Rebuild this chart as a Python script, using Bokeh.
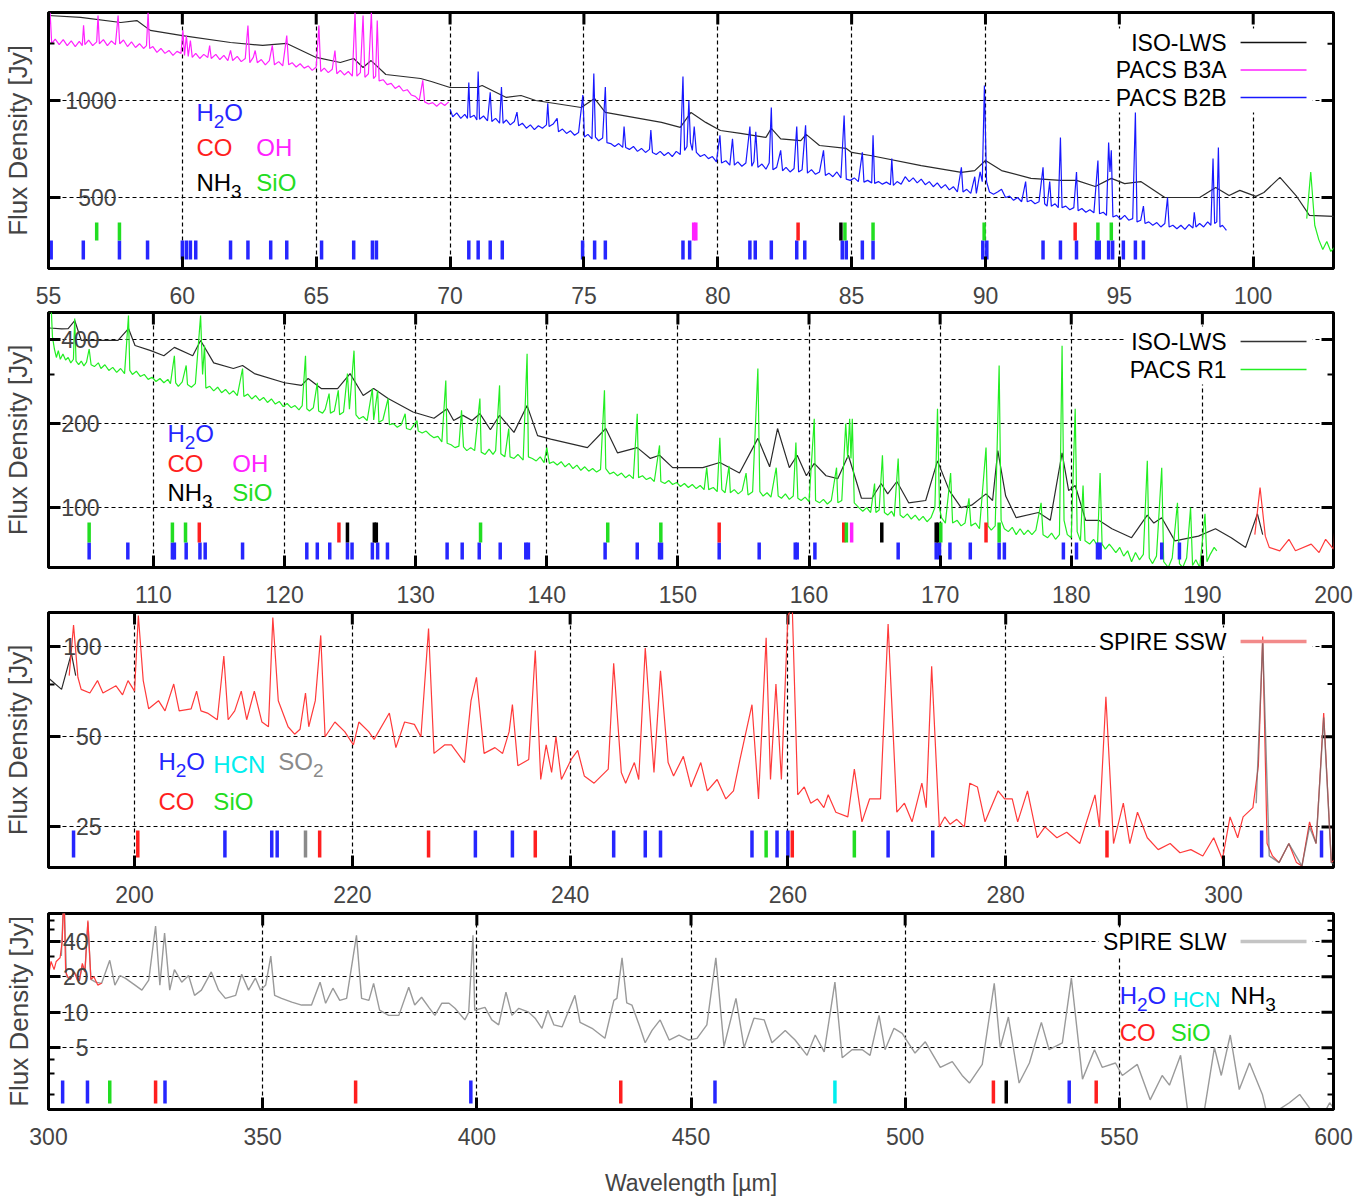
from bokeh.plotting import figure
from bokeh.layouts import column
from bokeh.models import (Range1d, LinearScale, FixedTicker, Label, BoxAnnotation,
                          NumeralTickFormatter)
from bokeh.embed import file_html
from bokeh.resources import INLINE

# ---------------------------------------------------------------- spectra
# (wavelength [um], flux density [Jy])
iso_lws = [
    (55.0, 1835), (56.2, 1810), (57.7, 1746), (58.3, 1770), (58.8, 1650), (60.0, 1590), (61.8, 1513),
    (63.0, 1482), (63.9, 1503), (65.0, 1360), (65.9, 1312), (66.4, 1350), (66.75, 1266), (67.05, 1330),
    (67.6, 1204), (68.9, 1170), (69.3, 1145), (70.0, 1097), (71.0, 1097), (71.2, 1113), (72.1, 1022),
    (72.65, 1036), (73.2, 1000), (74.9, 951), (75.4, 1014), (75.8, 919), (77.9, 855), (78.6, 825),
    (79.0, 918), (79.55, 855), (80.1, 807), (80.85, 790), (81.8, 768), (82.0, 819), (82.35, 760),
    (83.1, 751), (83.3, 785), (83.8, 725), (84.8, 710), (85.0, 690), (85.7, 675), (87.6, 628),
    (89.1, 598), (89.6, 606), (90.0, 651), (90.6, 606), (91.7, 573), (92.8, 565), (93.4, 565),
    (94.1, 541), (94.7, 573), (95.2, 552), (95.8, 560), (96.7, 500), (98.0, 500), (98.6, 537),
    (99.1, 507), (99.5, 526), (100.1, 504), (100.4, 518), (101.0, 577), (101.6, 507), (102.1, 440),
    (103.0, 437), (103.5, 438), (104.0, 468), (104.5, 397), (107.3, 397), (108.1, 438), (108.6, 381),
    (109.8, 365), (110.8, 350), (111.6, 375), (113.0, 350), (113.6, 397), (114.6, 330), (116.1, 315),
    (116.8, 323), (117.7, 302), (120.0, 280), (121.3, 274), (121.8, 290), (122.8, 267), (124.05, 267),
    (125.0, 302), (126.0, 252), (126.8, 267), (127.9, 246), (129.8, 220), (131.4, 209), (132.4, 226),
    (132.9, 205), (133.6, 214), (134.3, 205), (134.9, 217), (135.7, 190), (136.4, 214), (137.5, 186),
    (138.5, 232), (139.3, 181), (140.3, 176), (143.1, 164), (144.5, 192), (145.4, 157), (146.9, 164),
    (147.9, 150), (148.6, 154), (149.6, 139), (151.9, 139), (153.2, 145), (154.7, 133), (156.1, 177),
    (157.0, 140), (157.6, 192), (158.5, 139), (159.1, 154), (159.8, 130), (160.4, 144), (161.3, 130),
    (162.2, 127), (163.0, 154), (164.0, 108), (164.8, 108), (165.5, 122), (166.0, 112), (166.7, 124),
    (167.6, 104), (168.9, 106), (169.8, 147), (170.7, 115), (171.6, 100), (172.4, 102), (173.5, 112),
    (174.0, 106), (174.4, 160), (175.0, 110), (175.8, 92), (177.5, 96), (178.4, 90), (179.3, 157),
    (179.8, 115), (180.3, 120), (181.1, 90), (182.1, 90), (183.1, 84), (184.6, 78), (185.8, 94),
    (186.3, 88), (186.9, 92), (187.9, 76), (189.7, 79), (191.0, 84), (192.2, 78), (193.3, 72),
    (194.2, 95), (194.6, 80),
]

pacs_b3a = [
    (55.0, 1560), (55.06, 1875), (55.12, 1500), (55.25, 1550), (55.4, 1490), (55.55, 1545), (55.7, 1480),
    (55.85, 1530), (56.0, 1470), (56.15, 1525), (56.26, 1480), (56.31, 1710), (56.36, 1490), (56.5, 1540),
    (56.65, 1480), (56.8, 1520), (56.85, 1835), (56.9, 1500), (57.05, 1545), (57.2, 1480), (57.35, 1530),
    (57.5, 1490), (57.6, 1835), (57.66, 1500), (57.8, 1540), (57.95, 1470), (58.1, 1520), (58.25, 1460),
    (58.4, 1500), (58.55, 1450), (58.66, 1480), (58.72, 1875), (58.78, 1450), (58.9, 1470), (59.05, 1410),
    (59.2, 1450), (59.35, 1400), (59.5, 1430), (59.65, 1380), (59.8, 1420), (59.95, 1400), (60.02, 1650),
    (60.08, 1380), (60.15, 1590), (60.22, 1370), (60.3, 1535), (60.37, 1360), (60.5, 1400), (60.65, 1350),
    (60.8, 1390), (60.95, 1360), (61.02, 1480), (61.08, 1350), (61.25, 1390), (61.4, 1340), (61.55, 1380),
    (61.7, 1330), (61.8, 1430), (61.88, 1330), (62.05, 1370), (62.2, 1320), (62.35, 1350), (62.45, 1709),
    (62.52, 1310), (62.65, 1360), (62.72, 1429), (62.8, 1310), (62.95, 1340), (63.1, 1290), (63.25, 1330),
    (63.36, 1482), (63.44, 1290), (63.6, 1320), (63.75, 1280), (63.9, 1591), (63.97, 1290), (64.1, 1310),
    (64.25, 1270), (64.4, 1300), (64.55, 1260), (64.7, 1280), (64.85, 1240), (65.0, 1270), (65.1, 1709),
    (65.17, 1230), (65.3, 1260), (65.45, 1220), (65.6, 1250), (65.7, 1429), (65.77, 1210), (65.9, 1240),
    (66.05, 1200), (66.2, 1230), (66.35, 1190), (66.45, 1875), (66.52, 1190), (66.65, 1220), (66.75, 1835),
    (66.82, 1180), (66.95, 1210), (67.06, 1875), (67.14, 1170), (67.22, 1190), (67.28, 1771), (67.35, 1150),
    (67.5, 1160), (67.65, 1120), (67.8, 1130), (67.95, 1090), (68.1, 1110), (68.25, 1070), (68.4, 1080),
    (68.55, 1040), (68.7, 1030), (68.85, 1000), (68.98, 1154), (69.05, 990), (69.2, 975), (69.35, 985),
    (69.5, 960), (69.65, 985), (69.8, 965), (69.95, 990),
]

pacs_b2b = [
    (70.0, 940), (70.1, 890), (70.25, 915), (70.4, 880), (70.55, 905), (70.65, 880), (70.7, 1137),
    (70.75, 885), (70.9, 900), (71.0, 870), (71.05, 1230), (71.1, 875), (71.25, 895), (71.4, 865),
    (71.5, 1060), (71.56, 860), (71.7, 880), (71.85, 850), (71.92, 1100), (71.98, 850), (72.1, 870),
    (72.25, 840), (72.4, 860), (72.5, 920), (72.56, 835), (72.7, 850), (72.85, 820), (73.0, 840),
    (73.15, 812), (73.3, 835), (73.45, 820), (73.6, 840), (73.65, 980), (73.7, 830), (73.85, 845),
    (74.0, 880), (74.05, 800), (74.2, 815), (74.35, 790), (74.5, 805), (74.65, 780), (74.8, 795),
    (74.96, 1040), (75.02, 770), (75.15, 785), (75.3, 760), (75.37, 1213), (75.43, 770), (75.55, 750),
    (75.7, 765), (75.8, 1100), (75.86, 740), (76.0, 735), (76.15, 720), (76.3, 735), (76.45, 715),
    (76.5, 830), (76.56, 715), (76.7, 705), (76.85, 720), (77.0, 695), (77.15, 710), (77.3, 690),
    (77.45, 705), (77.5, 810), (77.56, 690), (77.7, 680), (77.85, 695), (78.0, 675), (78.15, 690),
    (78.3, 670), (78.45, 695), (78.6, 680), (78.7, 1187), (78.76, 700), (78.85, 720), (78.92, 1000),
    (78.98, 740), (79.05, 700), (79.12, 830), (79.2, 690), (79.35, 670), (79.5, 680), (79.65, 660),
    (79.8, 670), (79.95, 645), (80.08, 780), (80.14, 640), (80.3, 650), (80.45, 630), (80.55, 760),
    (80.62, 630), (80.75, 645), (80.9, 625), (81.05, 640), (81.2, 830), (81.27, 625), (81.35, 645),
    (81.42, 800), (81.5, 620), (81.65, 635), (81.8, 612), (81.92, 640), (82.0, 951), (82.06, 610),
    (82.2, 620), (82.35, 700), (82.42, 605), (82.55, 620), (82.7, 600), (82.85, 615), (82.95, 830),
    (83.02, 600), (83.15, 610), (83.28, 837), (83.35, 595), (83.5, 610), (83.65, 590), (83.8, 600),
    (83.95, 700), (84.02, 585), (84.15, 595), (84.3, 580), (84.45, 600), (84.6, 575), (84.72, 898),
    (84.8, 570), (84.95, 565), (85.1, 575), (85.25, 560), (85.4, 690), (85.46, 558), (85.6, 565),
    (85.75, 555), (85.8, 780), (85.86, 553), (86.0, 560), (86.15, 550), (86.3, 558), (86.45, 548),
    (86.5, 660), (86.56, 545), (86.7, 560), (86.85, 550), (87.0, 580), (87.15, 560), (87.3, 575),
    (87.45, 555), (87.6, 570), (87.75, 548), (87.9, 560), (88.05, 540), (88.2, 555), (88.35, 535),
    (88.5, 548), (88.65, 528), (88.8, 540), (88.95, 520), (89.1, 620), (89.16, 520), (89.3, 530),
    (89.45, 515), (89.6, 580), (89.66, 515), (89.8, 600), (89.88, 560), (89.96, 1113), (90.04, 560),
    (90.15, 520), (90.3, 512), (90.45, 520), (90.6, 530), (90.75, 500), (90.9, 505), (91.05, 490),
    (91.2, 500), (91.35, 485), (91.5, 560), (91.56, 485), (91.7, 490), (91.85, 478), (92.0, 485),
    (92.15, 620), (92.21, 478), (92.3, 470), (92.4, 560), (92.46, 470), (92.6, 478), (92.72, 465),
    (92.8, 768), (92.86, 465), (93.0, 470), (93.15, 458), (93.3, 465), (93.4, 600), (93.46, 455),
    (93.6, 462), (93.75, 450), (93.9, 458), (94.05, 448), (94.2, 651), (94.26, 445), (94.4, 450),
    (94.52, 440), (94.6, 741), (94.65, 600), (94.7, 700), (94.76, 435), (94.9, 440), (95.05, 428),
    (95.2, 440), (95.35, 425), (95.5, 430), (95.6, 918), (95.66, 420), (95.8, 425), (95.9, 470),
    (95.96, 415), (96.1, 420), (96.25, 410), (96.4, 418), (96.55, 405), (96.7, 415), (96.8, 500),
    (96.86, 405), (97.0, 410), (97.15, 400), (97.3, 410), (97.45, 398), (97.6, 412), (97.75, 402),
    (97.8, 450), (97.86, 405), (98.0, 415), (98.15, 405), (98.3, 420), (98.42, 410), (98.5, 661),
    (98.56, 415), (98.64, 420), (98.7, 715), (98.76, 405), (98.85, 410), (99.0, 395),
]

pacs_r1 = [
    (102.0, 430), (102.15, 600), (102.3, 410), (102.45, 370), (102.6, 345), (102.75, 365), (102.9, 340),
    (103.1, 355), (103.3, 338), (103.5, 345), (103.7, 330), (103.9, 340), (104.0, 476), (104.1, 335),
    (104.3, 325), (104.5, 335), (104.7, 322), (104.9, 332), (105.1, 370), (105.25, 325), (105.5, 320),
    (105.8, 330), (106.0, 315), (106.3, 325), (106.6, 310), (106.9, 318), (107.2, 305), (107.5, 315),
    (107.8, 302), (108.1, 488), (108.2, 310), (108.4, 300), (108.7, 308), (109.0, 295), (109.3, 300),
    (109.6, 288), (109.9, 293), (110.2, 283), (110.5, 290), (110.8, 280), (111.1, 288), (111.3, 278),
    (111.6, 350), (111.7, 280), (111.9, 272), (112.2, 282), (112.5, 323), (112.6, 276), (112.9, 270),
    (113.2, 278), (113.6, 488), (113.75, 300), (113.9, 381), (114.0, 268), (114.3, 272), (114.6, 262),
    (114.9, 270), (115.2, 258), (115.5, 265), (115.8, 255), (116.1, 262), (116.4, 252), (116.8, 315),
    (116.9, 250), (117.2, 255), (117.5, 245), (117.8, 252), (118.1, 242), (118.4, 248), (118.7, 238),
    (119.0, 245), (119.3, 235), (119.6, 240), (119.9, 230), (120.2, 236), (120.5, 228), (120.8, 232),
    (121.1, 224), (121.35, 232), (121.6, 350), (121.7, 226), (121.9, 222), (122.2, 228), (122.5, 280),
    (122.6, 222), (122.9, 218), (123.1, 225), (123.4, 256), (123.5, 218), (123.8, 222), (124.1, 263),
    (124.2, 215), (124.5, 220), (124.8, 302), (124.95, 225), (125.3, 365), (125.45, 215), (125.7, 208),
    (126.0, 212), (126.3, 205), (126.7, 267), (126.8, 206), (127.1, 263), (127.2, 202), (127.5, 206),
    (127.9, 246), (128.0, 198), (128.3, 200), (128.6, 194), (128.9, 198), (129.2, 217), (129.3, 192),
    (129.6, 190), (130.1, 205), (130.2, 188), (130.5, 185), (130.8, 188), (131.1, 182), (131.4, 178),
    (131.7, 180), (132.0, 172), (132.3, 285), (132.4, 170), (132.7, 168), (133.0, 164), (133.3, 166),
    (133.5, 223), (133.65, 165), (133.9, 160), (134.2, 164), (134.5, 160), (134.9, 246), (135.0, 158),
    (135.3, 155), (135.6, 162), (135.9, 155), (136.1, 160), (136.4, 274), (136.5, 156), (136.8, 152),
    (137.1, 192), (137.2, 152), (137.5, 150), (137.8, 155), (138.2, 148), (138.5, 356), (138.6, 152),
    (138.9, 150), (139.2, 147), (139.5, 152), (139.8, 145), (140.0, 164), (140.2, 144), (140.5, 146),
    (140.8, 142), (141.1, 146), (141.4, 140), (141.7, 144), (142.0, 138), (142.3, 142), (142.6, 136),
    (142.9, 140), (143.2, 135), (143.5, 138), (143.8, 134), (144.1, 137), (144.4, 263), (144.5, 138),
    (144.8, 132), (145.1, 134), (145.4, 130), (145.7, 133), (146.0, 128), (146.3, 131), (146.6, 127),
    (146.9, 217), (147.0, 128), (147.3, 130), (147.6, 126), (147.9, 128), (148.2, 124), (148.6, 167),
    (148.7, 124), (149.0, 122), (149.3, 125), (149.6, 121), (149.9, 123), (150.2, 119), (150.5, 122),
    (150.8, 118), (151.1, 121), (151.4, 117), (151.7, 120), (152.0, 116), (152.2, 139), (152.35, 116),
    (152.7, 118), (153.0, 114), (153.2, 178), (153.35, 116), (153.6, 113), (153.9, 141), (154.0, 113),
    (154.3, 116), (154.6, 112), (154.9, 115), (155.2, 133), (155.35, 111), (155.7, 114), (156.1, 315),
    (156.25, 114), (156.5, 110), (156.8, 113), (157.1, 109), (157.5, 139), (157.65, 110), (157.9, 108),
    (158.2, 112), (158.5, 107), (158.8, 110), (159.0, 171), (159.15, 108), (159.4, 106), (159.7, 109),
    (160.0, 105), (160.4, 208), (160.5, 106), (160.8, 104), (161.1, 107), (161.4, 103), (161.7, 106),
    (162.1, 139), (162.2, 104), (162.5, 106), (162.8, 200), (162.95, 150), (163.1, 208), (163.2, 150),
    (163.3, 208), (163.45, 104), (163.8, 100), (164.1, 97), (164.4, 100), (164.7, 96), (165.0, 122),
    (165.1, 96), (165.35, 98), (165.6, 154), (165.75, 96), (166.0, 94), (166.3, 97), (166.5, 93),
    (166.8, 150), (166.95, 94), (167.2, 92), (167.5, 95), (167.8, 91), (168.1, 94), (168.4, 90),
    (168.7, 93), (169.0, 89), (169.3, 92), (169.6, 100), (169.8, 226), (169.95, 100), (170.1, 92),
    (170.4, 88), (170.8, 133), (170.95, 88), (171.3, 90), (171.6, 86), (171.9, 88), (172.2, 108),
    (172.35, 86), (172.7, 88), (173.0, 84), (173.5, 164), (173.65, 86), (173.9, 83), (174.2, 86),
    (174.5, 323), (174.65, 90), (174.9, 84), (175.2, 82), (175.5, 85), (175.8, 80), (176.1, 84),
    (176.4, 80), (176.7, 83), (177.0, 80), (177.3, 83), (177.7, 104), (177.85, 80), (178.2, 78),
    (178.5, 81), (178.8, 77), (179.1, 80), (179.3, 380), (179.45, 90), (179.7, 80), (180.0, 78),
    (180.3, 226), (180.45, 82), (180.7, 76), (180.9, 120), (181.05, 76), (181.4, 74), (181.7, 77),
    (182.0, 73), (182.2, 133), (182.35, 74), (182.6, 71), (182.9, 74), (183.1, 72), (183.4, 69),
    (183.7, 72), (184.0, 67), (184.3, 70), (184.6, 64), (184.9, 69), (185.2, 65), (185.5, 68),
    (185.8, 147), (185.95, 66), (186.2, 63), (186.5, 67), (186.9, 139), (187.05, 64), (187.4, 61),
    (187.7, 66), (188.1, 104), (188.25, 63), (188.5, 61), (188.8, 66), (189.1, 100), (189.25, 62),
    (189.5, 65), (189.8, 61), (190.2, 95), (190.35, 64), (190.6, 68), (190.9, 72), (191.1, 70),
]

spire_ssw = [
    (194.0, 80), (194.4, 118), (194.8, 79), (195.1, 72), (195.9, 70), (196.6, 77), (197.1, 70),
    (198.3, 74), (198.9, 69), (199.4, 77), (200.0, 71), (200.35, 127), (200.8, 77), (201.3, 62),
    (202.2, 66), (202.8, 61), (203.6, 75), (204.1, 61), (205.2, 62), (205.7, 71), (206.1, 61),
    (206.7, 60), (207.6, 57), (208.2, 93), (208.6, 57), (209.2, 61), (209.8, 71), (210.3, 57),
    (211.0, 71), (211.7, 56), (212.3, 54), (212.7, 125), (213.2, 66), (214.1, 54), (214.7, 51),
    (215.2, 53), (215.7, 70), (216.0, 54), (216.6, 66), (217.1, 109), (217.5, 50), (218.4, 56),
    (219.3, 52), (220.1, 47), (220.6, 56), (221.5, 52), (222.0, 49), (223.4, 60), (224.0, 46),
    (224.8, 56), (225.7, 55), (226.3, 50), (227.0, 115), (227.5, 44), (228.5, 47), (229.1, 47),
    (230.3, 41), (230.9, 66), (231.4, 79), (232.1, 44), (233.1, 46), (233.8, 44), (234.4, 52),
    (234.7, 64), (235.2, 40), (236.2, 42), (236.8, 97), (237.3, 36), (237.8, 47), (238.3, 38),
    (238.7, 50), (239.2, 36), (240.1, 42), (240.7, 45), (241.3, 37), (242.2, 35), (243.5, 39),
    (244.0, 88), (244.7, 38), (245.1, 35), (245.9, 41), (246.3, 36), (246.9, 99), (247.7, 38),
    (248.3, 83), (249.0, 41), (249.5, 37), (250.4, 43), (251.1, 34), (252.0, 41), (252.6, 33),
    (253.5, 36), (254.3, 31), (255.0, 33), (255.6, 42), (256.7, 64), (257.3, 31), (258.0, 107),
    (258.4, 36), (258.9, 75), (259.4, 36), (260.0, 127), (260.4, 135), (260.9, 32), (261.5, 34),
    (262.1, 30), (262.7, 31), (263.3, 29), (263.7, 32), (264.4, 28), (265.5, 27), (266.1, 39),
    (266.8, 26), (267.5, 31), (268.5, 31), (269.2, 119), (270.0, 28), (270.7, 30), (271.4, 26),
    (272.3, 35), (272.7, 29), (273.2, 86), (273.9, 25), (274.4, 27), (274.9, 25.5), (275.5, 26.5),
    (276.2, 25), (276.7, 35), (277.4, 34), (278.1, 26), (279.3, 33), (279.9, 31), (280.6, 31),
    (281.1, 26), (282.0, 33), (282.9, 23), (283.6, 25), (284.7, 23), (285.6, 24), (286.8, 22),
    (288.2, 32), (288.6, 25), (289.2, 68), (289.9, 22), (290.8, 30), (291.4, 22), (292.1, 28),
    (293.0, 23), (294.0, 21), (295.1, 22), (296.0, 20.5), (297.0, 21), (298.1, 20), (299.1, 23),
    (299.9, 19.5), (300.6, 27), (301.3, 23), (301.8, 27), (302.7, 29), (303.2, 40), (303.6, 108),
    (304.0, 22), (304.5, 20), (305.1, 19), (306.0, 22), (306.7, 19), (307.2, 18.5), (307.9, 26),
    (308.5, 22), (309.2, 60), (309.9, 19), (310.6, 20), (311.5, 17), (312.4, 17.6),
]

spire_slw = [
    (303.0, 30), (303.6, 105), (304.2, 20), (305.1, 19), (306.0, 22), (307.2, 18.5), (307.9, 25),
    (308.5, 22), (309.2, 58), (309.9, 19), (311.0, 18), (312.4, 17.6), (314.3, 27.6), (315.5, 17),
    (316.7, 20.5), (317.9, 19.5), (320.2, 17), (321.8, 15.4), (323.4, 18.7), (325.0, 54), (326.0, 17),
    (327.1, 47), (328.3, 15.4), (329.4, 23), (331.1, 18), (332.7, 20.5), (334.1, 13.9), (335.7, 15.4),
    (338.0, 22), (339.7, 15.4), (341.3, 13.1), (343.7, 13.9), (345.1, 21), (346.7, 15.4), (348.3, 19.5),
    (349.5, 15.4), (350.7, 17), (351.9, 30), (352.8, 13.9), (354.4, 13.1), (356.8, 12.2), (359.1, 11.5),
    (361.4, 11.5), (363.4, 18), (364.7, 11.9), (366.4, 16), (368.0, 12.6), (369.6, 13.1), (371.9, 45),
    (373.1, 13.1), (374.8, 12.6), (375.9, 17.6), (377.3, 10.4), (379.4, 9.4), (381.8, 9.4), (384.1, 16.3),
    (385.5, 11.5), (387.1, 13.4), (388.8, 11), (390.2, 9.4), (391.8, 11.9), (393.5, 11.9), (394.9, 10.8),
    (397.2, 8.6), (398.1, 10), (399.1, 45), (399.5, 10.4), (401.9, 11), (403.5, 8.6), (405.1, 7.8),
    (406.8, 14.8), (408.2, 9.4), (409.8, 10.8), (412.1, 10), (413.6, 8.9), (415.2, 7.3), (416.6, 10.4),
    (418.0, 7.8), (419.9, 7.5), (422.9, 13.9), (424.1, 8.2), (426.9, 7.3), (429.9, 6.0), (432.0, 12.6),
    (432.7, 13.1), (433.9, 29), (435.0, 12), (436.2, 11.5), (437.9, 7.8), (439.3, 5.5), (440.9, 7),
    (442.8, 8.6), (444.9, 5.8), (447.2, 6.4), (449.5, 5.8), (451.4, 6), (453.7, 7.8), (455.8, 29),
    (457.7, 5.1), (460.5, 13.1), (462.4, 5.0), (464.7, 8.9), (467.1, 8.6), (468.9, 5.5), (472.0, 7.0),
    (474.3, 5.8), (477.1, 4.3), (479.0, 6.4), (481.1, 4.6), (483.6, 18), (485.3, 4.1), (487.6, 4.8),
    (490.0, 4.8), (491.8, 4.3), (493.9, 9.4), (495.3, 4.8), (497.4, 7.3), (499.3, 6.6), (502.3, 4.5),
    (504.7, 5.6), (508.2, 3.4), (511.0, 3.8), (513.3, 2.9), (515.0, 2.5), (518.0, 3.6), (520.8, 17.6),
    (522.2, 5.0), (524.1, 9.1), (526.6, 2.5), (529.0, 3.7), (531.8, 8.2), (533.6, 4.8), (536.7, 5.5),
    (538.8, 19.5), (541.4, 2.7), (544.2, 4.8), (546.0, 3.4), (549.1, 3.7), (550.7, 2.9), (554.2, 3.6),
    (557.2, 1.8), (560.0, 2.9), (561.7, 2.4), (564.3, 4.3), (565.9, 1.5), (567.8, 1.3), (569.9, 1.5),
    (572.2, 5.0), (573.8, 2.9), (575.9, 6.4), (578.0, 2.2), (580.4, 3.7), (583.4, 2.0), (584.6, 1.3),
    (587.4, 1.5), (589.7, 1.7), (592.1, 2.0), (594.6, 1.5), (597.4, 1.3), (599.1, 1.7), (600.2, 1.5),
]

# ---------------------------------------------------------------- line identifications [um]
h2o_b = [55.1, 56.3, 57.65, 58.7, 60.0, 60.15, 60.3, 60.5, 61.8, 62.45, 63.3, 63.9, 65.2, 66.4, 67.1,
         67.25, 70.7, 71.05, 71.5, 71.95, 74.95, 75.4, 75.8, 78.7, 78.95, 81.2, 81.4, 82.0, 82.95, 83.25,
         84.65, 84.8, 85.4, 85.8, 89.9, 90.05, 92.15, 92.8, 93.4, 94.15, 94.25, 94.6, 94.75, 95.15, 95.6, 95.9]
co_b = [83.0, 93.35]
oh_b = [79.1, 79.18]
nh3_b = [84.6]
sio_b = [56.8, 57.65, 84.75, 85.8, 89.95, 94.2, 94.7]

h2o_r = [105.1, 108.05, 111.45, 111.6, 112.5, 113.55, 113.95, 116.8, 121.7, 122.5, 123.45, 124.8, 125.15,
         126.7, 127.1, 127.85, 132.4, 133.55, 134.85, 136.45, 138.4, 138.6, 144.45, 146.9, 148.6, 148.75,
         153.15, 156.2, 158.95, 159.1, 160.45, 166.8, 169.7, 169.95, 170.75, 172.3, 174.5, 174.9, 179.4,
         180.4, 182.0, 182.2, 186.9, 188.25]
co_r = [113.5, 124.15, 153.15, 162.65, 173.5]
oh_r = [163.25]
nh3_r = [124.8, 126.85, 127.0, 165.55, 169.7, 169.85]
sio_r = [105.1, 111.45, 112.45, 134.95, 144.65, 148.7, 162.85, 170.05, 174.5]

h2o_ssw = [194.4, 208.3, 212.6, 213.1, 231.3, 234.7, 244.0, 246.9, 248.3, 256.7, 259.0, 260.0, 269.2,
           273.3, 303.5, 309.0]
co_ssw = [200.3, 217.0, 227.0, 236.8, 260.4, 289.3]
sio_ssw = [258.0, 266.1]
so2_ssw = [215.7]

h2o_slw = [303.3, 309.1, 327.2, 398.6, 455.6, 538.3]
co_slw = [325.0, 371.7, 433.6, 520.6, 544.6]
sio_slw = [314.3]
hcn_slw = [483.6]
nh3_slw = [523.6]

# ---------------------------------------------------------------- styling
FONT = "Liberation Sans"
FS = "23px"
ADV = {"H": .722, "O": .778, "N": .722, "S": .667, "C": .722, "i": .222}

WIDTH = 1359
LEFT = 47
FRAME_W = 1286

C_H2O, C_CO, C_OH, C_NH3 = "#2626ff", "#ff1f1f", "#ff22ff", "#000000"
C_SIO, C_HCN, C_SO2 = "#22dd22", "#00eeee", "#8a8a8a"


def unzip(pairs):
    return [a for a, _ in pairs], [b for _, b in pairs]


def make_panel(xr, yr, xticks, yticks, yminor, height, top, bottom, label_right, label_w):
    fh = height - top - bottom
    p = figure(width=WIDTH, height=height, x_range=Range1d(*xr), y_range=Range1d(*yr),
               y_axis_type="log", output_backend="svg", toolbar_location=None,
               min_border_left=LEFT, min_border_right=WIDTH - LEFT - FRAME_W,
               min_border_top=top, min_border_bottom=bottom)
    p.extra_x_ranges = {"px": Range1d(0, FRAME_W)}
    p.extra_y_ranges = {"px": Range1d(0, fh)}
    p.extra_x_scales = {"px": LinearScale()}
    p.extra_y_scales = {"px": LinearScale()}
    p.outline_line_color = "black"
    p.outline_line_width = 3
    p.background_fill_color = "white"
    p.border_fill_color = "white"

    xa = p.below[0]
    xa.ticker = FixedTicker(ticks=xticks)
    xa.major_tick_in, xa.major_tick_out = 12, 0
    xa.major_tick_line_width = 3
    xa.minor_tick_line_color = None
    xa.axis_line_width = 3
    xa.major_label_standoff = 18
    xa.major_label_text_font = FONT
    xa.major_label_text_font_size = FS

    ya = p.left[0]
    ya.ticker = FixedTicker(ticks=yticks, minor_ticks=yminor)
    ya.formatter = NumeralTickFormatter(format="0")
    ya.major_tick_in, ya.major_tick_out = 12, 0
    ya.minor_tick_in, ya.minor_tick_out = 6, 0
    ya.major_tick_line_width = 3
    ya.minor_tick_line_width = 2
    ya.axis_line_width = 3
    ya.major_label_standoff = -(label_right - LEFT)
    ya.major_label_text_font = FONT
    ya.major_label_text_font_size = FS
    ya.axis_label = "Flux Density [Jy]"
    ya.axis_label_text_font = FONT
    ya.axis_label_text_font_size = "26px"
    ya.axis_label_text_font_style = "normal"
    ya.axis_label_standoff = 12 - (label_w + ya.major_label_standoff)

    # inward tick marks mirrored on the top and right frame edges
    p.segment(x0=xticks, x1=xticks, y0=[fh - 12] * len(xticks), y1=[fh] * len(xticks),
              y_range_name="px", line_color="black", line_width=3)
    p.segment(x0=[FRAME_W - 12] * len(yticks), x1=[FRAME_W] * len(yticks), y0=yticks, y1=yticks,
              x_range_name="px", line_color="black", line_width=3)
    if yminor:
        p.segment(x0=[FRAME_W - 6] * len(yminor), x1=[FRAME_W] * len(yminor), y0=yminor, y1=yminor,
                  x_range_name="px", line_color="black", line_width=2)

    for g in (p.xgrid[0], p.ygrid[0]):
        g.grid_line_color = "black"
        g.grid_line_dash = "4 3"
        g.grid_line_width = 1.2
    return p


def spectrum(p, pairs, color, width=1.2, alpha=1.0):
    wl, fl = unzip(pairs)
    p.line(wl, fl, line_color=color, line_width=width, line_alpha=alpha)


def ticks(p, wl, color, lo, hi):
    p.segment(x0=wl, x1=wl, y0=[lo] * len(wl), y1=[hi] * len(wl), y_range_name="px",
              line_color=color, line_width=3.5)


def key_box(p, fb, x0, x1, y0, y1):
    p.add_layout(BoxAnnotation(left=x0 - LEFT, right=x1 - LEFT, bottom=fb - y1, top=fb - y0,
                               x_range_name="px", y_range_name="px", fill_color="white",
                               fill_alpha=1.0, line_color=None, level="underlay"))


def key_row(p, fb, y, text, color, width=1.5):
    yy = fb - y
    p.add_layout(Label(x=1226 - LEFT, y=yy, x_range_name="px", y_range_name="px", text=text,
                       text_align="right", text_baseline="middle", text_font=FONT,
                       text_font_size=FS, text_color="black"))
    p.segment(x0=[1240 - LEFT], x1=[1306 - LEFT], y0=[yy], y1=[yy], x_range_name="px",
              y_range_name="px", line_color=color, line_width=width)


def species(p, fb, x, y, parts, color, size=24, sub=19):
    xx, yy = x - LEFT, fb - y
    for text, lowered in parts:
        s = sub if lowered else size
        p.add_layout(Label(x=xx, y=yy - (9 if lowered else 0), x_range_name="px", y_range_name="px",
                           text=text, text_align="left", text_baseline="middle", text_font=FONT,
                           text_font_size=f"{s}px", text_color=color))
        xx += sum(ADV.get(c, .556) for c in text) * s


H2O = [("H", 0), ("2", 1), ("O", 0)]
NH3 = [("NH", 0), ("3", 1)]
SO2 = [("SO", 0), ("2", 1)]

# ---------------------------------------------------------------- panel 1: 55-103 um
FB1 = 268
p1 = make_panel((55, 103), (301, 1875), list(range(55, 101, 5)), [500, 1000], [1500],
                310, 12, 42, 115, 51)
key_box(p1, FB1, 1110, 1312, 28, 112)
spectrum(p1, iso_lws, "#2b2b2b")
spectrum(p1, pacs_b3a, "#ff22ff")
spectrum(p1, pacs_b2b, "#1818ff")
spectrum(p1, pacs_r1, "#22ee22")
ticks(p1, h2o_b, C_H2O, 9, 28)
for wl, c in ((co_b, C_CO), (oh_b, C_OH), (nh3_b, C_NH3), (sio_b, C_SIO)):
    ticks(p1, wl, c, 28, 46)
key_row(p1, FB1, 42, "ISO-LWS", "#111111")
key_row(p1, FB1, 69.5, "PACS B3A", "#ff22ff")
key_row(p1, FB1, 97, "PACS B2B", "#1818ff")
species(p1, FB1, 195, 112, H2O, C_H2O)
species(p1, FB1, 195, 147, [("CO", 0)], C_CO)
species(p1, FB1, 255, 147, [("OH", 0)], C_OH)
species(p1, FB1, 195, 182, NH3, C_NH3)
species(p1, FB1, 255, 182, [("SiO", 0)], C_SIO)

# ---------------------------------------------------------------- panel 2: 102-200 um
FB2 = 567
p2 = make_panel((102, 200), (61, 500), list(range(110, 201, 10)), [100, 200, 400], [300],
                300, 2, 43, 98, 38)
key_box(p2, FB2, 1125, 1312, 326, 384)
spectrum(p2, iso_lws, "#2b2b2b")
spectrum(p2, pacs_r1, "#22ee22")
spectrum(p2, spire_ssw, "#ff3a3a")
ticks(p2, h2o_r, C_H2O, 8, 25)
for wl, c in ((co_r, C_CO), (oh_r, C_OH), (nh3_r, C_NH3), (sio_r, C_SIO)):
    ticks(p2, wl, c, 25, 45)
key_row(p2, FB2, 341, "ISO-LWS", "#333333")
key_row(p2, FB2, 369, "PACS R1", "#22ee22")
species(p2, FB2, 166, 433, H2O, C_H2O)
species(p2, FB2, 166, 463, [("CO", 0)], C_CO)
species(p2, FB2, 231, 463, [("OH", 0)], C_OH)
species(p2, FB2, 166, 492, NH3, C_NH3)
species(p2, FB2, 231, 492, [("SiO", 0)], C_SIO)

# ---------------------------------------------------------------- panel 3: SPIRE SSW
FB3 = 867
p3 = make_panel((192.1, 310.1), (18.3, 130), list(range(200, 301, 20)), [25, 50, 100], [75],
                300, 2, 43, 100, 38)
key_box(p3, FB3, 1095, 1312, 627, 656)
spectrum(p3, iso_lws, "#2b2b2b")
spectrum(p3, spire_ssw, "#ff3a3a")
spectrum(p3, spire_slw, "#6e6e6e", width=1.4, alpha=0.75)
for wl, c in ((h2o_ssw, C_H2O), (co_ssw, C_CO), (sio_ssw, C_SIO), (so2_ssw, C_SO2)):
    ticks(p3, wl, c, 10, 37)
key_row(p3, FB3, 641, "SPIRE SSW", "#f28a8a", width=3.5)
species(p3, FB3, 157, 761, H2O, C_H2O)
species(p3, FB3, 212, 764, [("HCN", 0)], C_HCN)
species(p3, FB3, 277, 761, SO2, C_SO2)
species(p3, FB3, 157, 801, [("CO", 0)], C_CO)
species(p3, FB3, 212, 801, [("SiO", 0)], C_SIO)

# ---------------------------------------------------------------- panel 4: SPIRE SLW
FB4 = 1109
p4 = make_panel((300, 600), (1.49, 69), list(range(300, 601, 50)), [5, 10, 20, 40], [2, 3, 4, 30, 50, 60],
                289, 3, 90, 87, 26)
key_box(p4, FB4, 1098, 1312, 927, 957)
spectrum(p4, spire_slw, "#9a9a9a", width=1.4)
spectrum(p4, spire_ssw, "#ff3a3a")
for wl, c in ((h2o_slw, C_H2O), (co_slw, C_CO), (sio_slw, C_SIO), (hcn_slw, C_HCN), (nh3_slw, C_NH3)):
    ticks(p4, wl, c, 6, 29)
key_row(p4, FB4, 941, "SPIRE SLW", "#c4c4c4", width=3.5)
species(p4, FB4, 1119, 995, H2O, C_H2O)
species(p4, FB4, 1172, 999, [("HCN", 0)], C_HCN, size=22)
species(p4, FB4, 1230, 995, NH3, C_NH3)
species(p4, FB4, 1119, 1032, [("CO", 0)], C_CO)
species(p4, FB4, 1170, 1032, [("SiO", 0)], C_SIO)
xb = p4.below[0]
xb.axis_label = "Wavelength [µm]"
xb.axis_label_text_font = FONT
xb.axis_label_text_font_size = FS
xb.axis_label_text_font_style = "normal"
xb.axis_label_standoff = 22

layout = column(p1, p2, p3, p4, spacing=0)
open("out.html", "w").write(file_html(layout, INLINE))
